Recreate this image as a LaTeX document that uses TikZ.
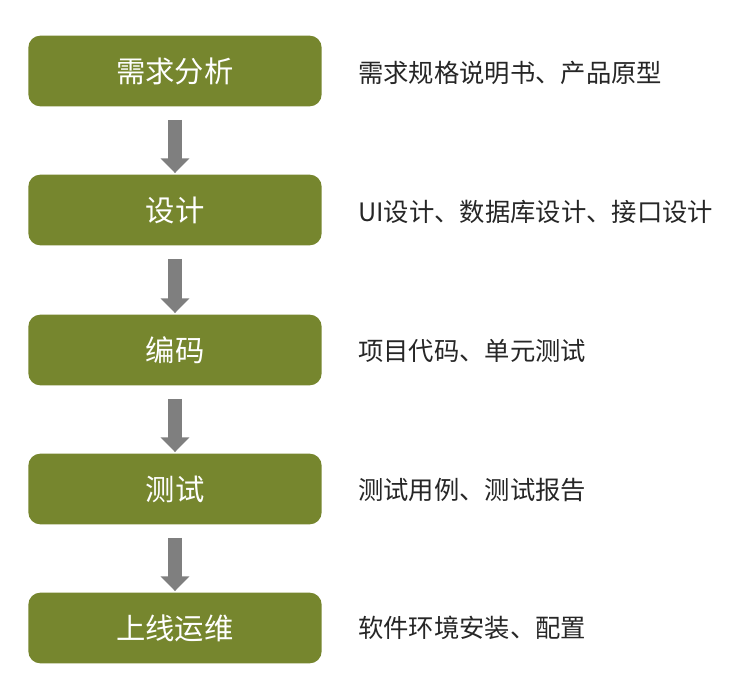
\documentclass[tikz,border=0pt]{standalone}
\usepackage{fontspec}
\setmainfont{Noto Sans CJK SC}
\usetikzlibrary{arrows.meta,positioning}
\definecolor{stageolive}{HTML}{76862E}
\definecolor{flowgray}{HTML}{7F7F7F}
\tikzset{
  stage/.style={fill=stageolive, draw=none, rounded corners=9pt, minimum width=220pt,
    minimum height=53pt, text=white, font=\fontsize{22pt}{24pt}\selectfont},
  output/.style={anchor=west, text=black!85, font=\fontsize{19pt}{21pt}\selectfont, inner sep=0pt},
  flow/.style={draw=flowgray, line width=11pt, shorten <=10pt, shorten >=1pt,
    -{Triangle[width=21pt,length=11pt]}}
}
\begin{document}
\begin{tikzpicture}[x=0.75pt,y=-0.75pt]
    \useasboundingbox (0,0) rectangle (751,680);

		\node[stage] (req) at (175,71) {需求分析};
		\node[stage] (des) at (175,210) {设计};
		\node[stage] (cod) at (175,350) {编码};
		\node[stage] (tst) at (175,489) {测试};
		\node[stage] (ops) at (175,628) {上线运维};

		\node[output] (reqout) at (358,73) {需求规格说明书、产品原型};
		\node[output] (desout) at (358,212) {UI设计、数据库设计、接口设计};
		\node[output] (codout) at (358,351) {项目代码、单元测试};
		\node[output] (tstout) at (358,490) {测试用例、测试报告};
		\node[output] (opsout) at (358,628) {软件环境安装、配置};

		\draw[flow] (req) -- (des);
		\draw[flow] (des) -- (cod);
		\draw[flow] (cod) -- (tst);
		\draw[flow] (tst) -- (ops);

\end{tikzpicture}
\end{document}
